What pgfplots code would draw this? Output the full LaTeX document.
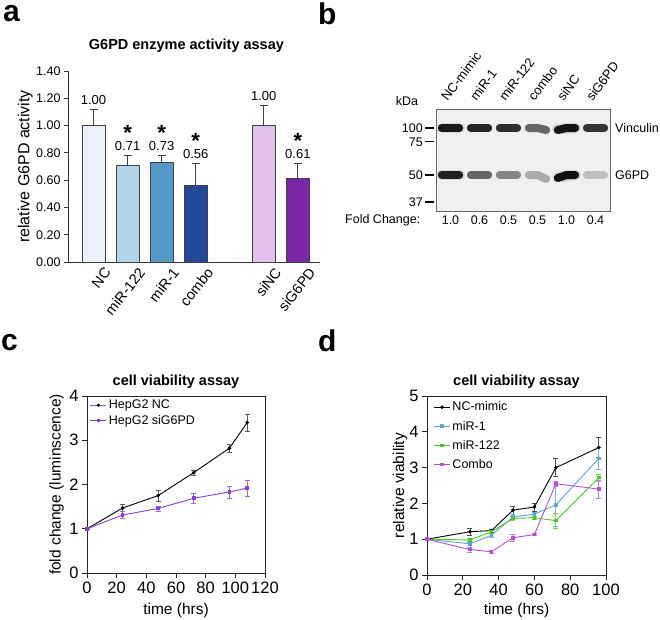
\documentclass[border=0pt]{standalone}
\usepackage{fontspec}
\setmainfont{Liberation Sans}
\usepackage{pgfplots}
\pgfplotsset{compat=1.18}
\definecolor{cNC}{HTML}{EAF1FB}
\definecolor{cR122}{HTML}{B3D3E8}
\definecolor{cR1}{HTML}{5599C8}
\definecolor{cCombo}{HTML}{234A9A}
\definecolor{csiNC}{HTML}{E3C1EE}
\definecolor{csiG}{HTML}{7B27A8}
\definecolor{pNC}{HTML}{5C6BC0}
\definecolor{pSI}{HTML}{8A3FD1}
\definecolor{dR1}{HTML}{5DA5D9}
\definecolor{dR122}{HTML}{4CC62A}
\definecolor{dCombo}{HTML}{B84FCF}
\newcommand{\fs}[1]{\fontsize{#1}{#1}\selectfont}
\pgfplotsset{
  mylegimg/.style={legend image code/.code={
    \draw[##1] (0pt,0pt) -- (16pt,0pt);
    \draw[##1, only marks] plot coordinates {(8pt,0pt)};}},
}
\begin{document}
\begin{tikzpicture}[x=1pt,y=1pt]
\useasboundingbox (0,0) rectangle (660,-619);
% panel letters
\node[anchor=base west, font=\bfseries\fs{30}, inner sep=0] at (3pt,-21pt) {a};
\node[anchor=base west, font=\bfseries\fs{30}, inner sep=0] at (318pt,-24pt) {b};
\node[anchor=base west, font=\bfseries\fs{30}, inner sep=0] at (1pt,-350pt) {c};
\node[anchor=base west, font=\bfseries\fs{30}, inner sep=0] at (318pt,-351pt) {d};

% ---------------- panel a
\begin{axis}[
  at={(68pt,-262pt)}, anchor=south west, scale only axis,
  width=252pt, height=191pt,
  xmin=-0.75, xmax=6.65, ymin=0, ymax=1.4,
  axis lines*=left, axis line style={black!80, line width=0.9pt},
  xtick={0,1,2,3,5,6}, xticklabels={NC,miR-122,miR-1,combo,siNC,siG6PD},
  x tick label style={rotate=52, anchor=north east, font=\fs{14.5}, inner sep=0pt, xshift=6pt, yshift=-8pt},
  major x tick style={draw=none},
  ytick={0,0.2,0.4,0.6,0.8,1.0,1.2,1.4},
  y tick label style={font=\fs{12.5}},
  yticklabel style={/pgf/number format/.cd, fixed, fixed zerofill, precision=2, assume math mode=true},
  major y tick style={black!80, line width=0.9pt},
  tick align=outside, major tick length=4pt,
  ylabel={relative G6PD activity},
  ylabel style={font=\fs{16}, at={(axis description cs:-0.17,0.5)}, anchor=center},
  title={G6PD enzyme activity assay},
  title style={font=\bfseries\fs{14.5}, at={(axis description cs:0.47,1.10)}, anchor=center},
  clip=false,
  every axis plot/.append style={ybar, bar width=0.67, bar shift=0pt, draw=black!75, line width=0.8pt,
    error bars/y dir=plus, error bars/y explicit,
    error bars/error bar style={black!75, line width=1pt},
    error bars/error mark options={rotate=90, mark size=4pt, black!75, line width=1pt}},
]
\addplot[fill=cNC] coordinates {(0,1.00) +- (0,0.12)};
\addplot[fill=cR122] coordinates {(1,0.71) +- (0,0.07)};
\addplot[fill=cR1] coordinates {(2,0.73) +- (0,0.05)};
\addplot[fill=cCombo] coordinates {(3,0.56) +- (0,0.16)};
\addplot[fill=csiNC] coordinates {(5,1.00) +- (0,0.15)};
\addplot[fill=csiG] coordinates {(6,0.61) +- (0,0.11)};
\begin{scope}[every node/.style={font=\fs{13}, anchor=base, inner sep=0}]
\node[yshift=5pt] at (axis cs:0,1.12) {1.00};
\node[yshift=5pt] at (axis cs:1,0.78) {0.71};
\node[yshift=5pt] at (axis cs:2,0.78) {0.73};
\node[yshift=5pt] at (axis cs:3,0.72) {0.56};
\node[yshift=5pt] at (axis cs:5,1.15) {1.00};
\node[yshift=5pt] at (axis cs:6,0.72) {0.61};
\end{scope}
\begin{scope}[every node/.style={font=\bfseries\fs{22}, anchor=base, inner sep=0}]
\node[yshift=15pt] at (axis cs:1,0.78) {*};
\node[yshift=15pt] at (axis cs:2,0.78) {*};
\node[yshift=15pt] at (axis cs:3,0.72) {*};
\node[yshift=15pt] at (axis cs:6,0.72) {*};
\end{scope}
\end{axis}

% ---------------- panel b (blot)
\begin{axis}[
  at={(436pt,-211pt)}, anchor=south west, scale only axis,
  width=174pt, height=102pt,
  xmin=0, xmax=6, ymin=0, ymax=102,
  axis line style={black!60, line width=0.8pt},
  axis background/.style={fill=black!6},
  xtick=\empty,
  ytick={9,36,69,83},
  yticklabels={37\hspace{2pt}\rule[0.3em]{9pt}{1.8pt},50\hspace{2pt}\rule[0.3em]{9pt}{1.8pt},75\hspace{2pt}\rule[0.3em]{9pt}{1.8pt},100\hspace{2pt}\rule[0.3em]{9pt}{1.8pt}},
  yticklabel style={font=\fs{12.5}, inner sep=0pt, xshift=-2pt},
  major tick length=0pt, ytick pos=left,
  clip=false,
  every axis plot/.append style={line width=8pt, line cap=round},
]
% soft halos
\addplot[black!25, line width=10.5pt, opacity=0.5] coordinates {(0.18,83) (0.82,83)};
\addplot[black!25, line width=10.5pt, opacity=0.5] coordinates {(4.18,82) (4.82,83)};
\addplot[black!25, line width=10.5pt, opacity=0.5] coordinates {(0.18,36) (0.82,36)};
\addplot[black!25, line width=10.5pt, opacity=0.5] coordinates {(4.18,34) (4.82,36)};
% Vinculin bands (~100 kDa)
\addplot[black!90] coordinates {(0.20,83) (0.80,83)};
\addplot[black!86] coordinates {(1.20,83) (1.80,83)};
\addplot[black!82] coordinates {(2.20,83) (2.80,83)};
\addplot[black!60] coordinates {(3.20,83) (3.50,83) (3.80,81)};
\addplot[black!92] coordinates {(4.20,81) (4.50,83) (4.80,83)};
\addplot[black!80] coordinates {(5.20,83) (5.80,83)};
% G6PD bands (~50 kDa)
\addplot[black!88] coordinates {(0.20,36) (0.80,36)};
\addplot[black!60] coordinates {(1.20,36) (1.80,36)};
\addplot[black!48] coordinates {(2.20,36) (2.80,36)};
\addplot[black!33] coordinates {(3.20,36) (3.50,36) (3.80,32)};
\addplot[black!94] coordinates {(4.20,33) (4.50,36) (4.80,36)};
\addplot[black!25] coordinates {(5.20,36) (5.80,36)};
\begin{scope}[every node/.style={font=\fs{12.5}, inner sep=0}]
\node at (axis cs:0.5,-9) {1.0};
\node at (axis cs:1.5,-9) {0.6};
\node at (axis cs:2.5,-9) {0.5};
\node at (axis cs:3.5,-9) {0.5};
\node at (axis cs:4.5,-9) {1.0};
\node at (axis cs:5.5,-9) {0.4};
\end{scope}
\end{axis}
\begin{scope}[every node/.style={font=\fs{13}, anchor=base west, rotate=53, inner sep=0}]
\node at (447.5pt,-102pt) {NC-mimic};
\node at (476.5pt,-102pt) {miR-1};
\node at (505.5pt,-102pt) {miR-122};
\node at (534.5pt,-102pt) {combo};
\node at (563.5pt,-102pt) {siNC};
\node at (592.5pt,-102pt) {siG6PD};
\end{scope}
\node[font=\fs{12.5}, inner sep=0] at (407pt,-101pt) {kDa};
\node[font=\fs{12.5}, inner sep=0, anchor=west] at (615pt,-128pt) {Vinculin};
\node[font=\fs{12.5}, inner sep=0, anchor=west] at (615pt,-175pt) {G6PD};
\node[font=\fs{12.5}, inner sep=0, anchor=west] at (345pt,-220pt) {Fold Change:};

% ---------------- panel c
\begin{axis}[
  at={(87pt,-573pt)}, anchor=south west, scale only axis,
  width=178pt, height=177pt,
  xmin=0, xmax=120, ymin=0, ymax=4,
  xtick={0,20,40,60,80,100,120}, ytick={0,1,2,3,4},
  tick label style={font=\fs{16.5}},
  /pgf/number format/assume math mode=true,
  axis line style={black!85, line width=0.9pt},
  tick style={black!85, line width=0.9pt},
  tick align=outside, major tick length=5pt,
  xtick pos=left, ytick pos=left,
  xlabel={time (hrs)}, ylabel={fold change (luminscence)},
  xlabel style={font=\fs{15.5}, at={(axis description cs:0.5,-0.21)}, anchor=center},
  ylabel style={font=\fs{15.5}, at={(axis description cs:-0.17,0.5)}, anchor=center},
  title={cell viability assay},
  title style={font=\bfseries\fs{14.5}, at={(axis description cs:0.5,1.045)}, anchor=center},
  legend style={draw=none, fill=none, at={(axis description cs:0.01,0.995)}, anchor=north west,
    font=\fs{12.5}, row sep=1pt, inner sep=1pt},
  legend cell align=left,
  mylegimg,
  clip=false,
]
\addplot[black, line width=0.9pt, mark=*, mark size=1.3pt, forget plot,
  error bars/.cd, y dir=both, y explicit, error bar style={black!65, line width=0.8pt},
  error mark options={rotate=90, mark size=2.5pt, black!65}]
  coordinates {(0,1) +- (0,0.02) (24,1.47) +- (0,0.08) (48,1.75) +- (0,0.13) (72,2.27) +- (0,0.05) (96,2.82) +- (0,0.10) (108,3.40) +- (0,0.20)};
\addlegendimage{pNC, line width=0.9pt, mark=*, mark size=1.1pt, mark options={black}}
\addlegendentry{HepG2 NC}
\addplot[pSI, line width=0.9pt, mark=square*, mark size=1.3pt,
  error bars/.cd, y dir=both, y explicit, error bar style={pSI!80, line width=0.8pt},
  error mark options={rotate=90, mark size=2.5pt, pSI!80}]
  coordinates {(0,1) +- (0,0.02) (24,1.31) +- (0,0.08) (48,1.46) +- (0,0.06) (72,1.69) +- (0,0.11) (96,1.83) +- (0,0.13) (108,1.92) +- (0,0.18)};
\addlegendentry{HepG2 siG6PD}
\end{axis}

% ---------------- panel d
\begin{axis}[
  at={(427pt,-575pt)}, anchor=south west, scale only axis,
  width=179pt, height=179pt,
  xmin=0, xmax=100, ymin=0, ymax=5,
  xtick={0,20,40,60,80,100}, ytick={0,1,2,3,4,5},
  tick label style={font=\fs{16.5}},
  /pgf/number format/assume math mode=true,
  axis line style={black!85, line width=0.9pt},
  tick style={black!85, line width=0.9pt},
  tick align=outside, major tick length=5pt,
  xtick pos=left, ytick pos=left,
  xlabel={time (hrs)}, ylabel={relative viability},
  xlabel style={font=\fs{15.5}, at={(axis description cs:0.5,-0.2)}, anchor=center},
  ylabel style={font=\fs{15.5}, at={(axis description cs:-0.15,0.5)}, anchor=center},
  title={cell viability assay},
  title style={font=\bfseries\fs{14.5}, at={(axis description cs:0.5,1.045)}, anchor=center},
  legend style={draw=none, fill=none, at={(axis description cs:0.03,0.985)}, anchor=north west,
    font=\fs{12.5}, row sep=4.5pt, inner sep=1pt},
  legend cell align=left,
  mylegimg,
  clip=false,
  every axis plot/.append style={line width=0.9pt, mark size=1.3pt},
]
\addplot[black, mark=*,
  error bars/.cd, y dir=both, y explicit, error bar style={black!70, line width=0.8pt},
  error mark options={rotate=90, mark size=2.5pt, black!70}]
  coordinates {(0,1) +- (0,0.02) (24,1.21) +- (0,0.10) (36,1.24) +- (0,0.04) (48,1.81) +- (0,0.10) (60,1.90) +- (0,0.12) (72,3.00) +- (0,0.25) (96,3.56) +- (0,0.28)};
\addlegendentry{NC-mimic}
\addplot[dR1, mark=square*,
  error bars/.cd, y dir=both, y explicit, error bar style={dR1!80, line width=0.8pt},
  error mark options={rotate=90, mark size=2.5pt, dR1!80}]
  coordinates {(0,1) +- (0,0.02) (24,0.87) +- (0,0.08) (36,1.11) +- (0,0.06) (48,1.62) +- (0,0.07) (60,1.70) +- (0,0.05) (72,1.96) +- (0,0.60) (96,3.26) +- (0,0.30)};
\addlegendentry{miR-1}
\addplot[dR122, mark=square*,
  error bars/.cd, y dir=both, y explicit, error bar style={dR122!80, line width=0.8pt},
  error mark options={rotate=90, mark size=2.5pt, dR122!80}]
  coordinates {(0,1) +- (0,0.02) (24,0.98) +- (0,0.05) (36,1.21) +- (0,0.04) (48,1.58) +- (0,0.05) (60,1.60) +- (0,0.03) (72,1.52) +- (0,0.20) (96,2.72) +- (0,0.10)};
\addlegendentry{miR-122}
\addplot[dCombo, mark=square*,
  error bars/.cd, y dir=both, y explicit, error bar style={dCombo!75, line width=0.8pt},
  error mark options={rotate=90, mark size=2.5pt, dCombo!75}]
  coordinates {(0,1) +- (0,0.02) (24,0.71) +- (0,0.08) (36,0.65) +- (0,0.05) (48,1.04) +- (0,0.10) (60,1.13) +- (0,0.03) (72,2.55) +- (0,0.08) (96,2.40) +- (0,0.25)};
\addlegendentry{Combo}
\end{axis}
\end{tikzpicture}
\end{document}
